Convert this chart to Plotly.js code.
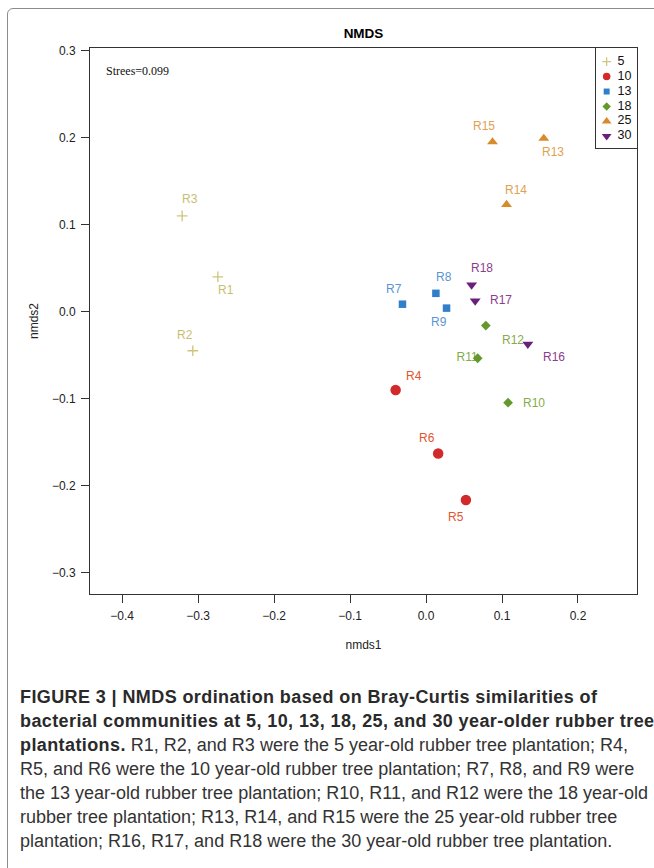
<!DOCTYPE html>
<html>
<head>
<meta charset="utf-8">
<script src="https://cdn.plot.ly/plotly-3.0.1.min.js"></script>
<style>
  html, body { margin: 0; padding: 0; background: #ffffff; }
  body { width: 654px; height: 868px; position: relative; overflow: hidden; }
  #plot { position: absolute; left: 0; top: 0; width: 654px; height: 680px; }
  #frame { position: absolute; left: 7px; top: 8px; width: 720px; height: 920px;
           border: 1.5px solid #8c8c8c; border-radius: 6px; pointer-events: none; }
  #caption { position: absolute; left: 20px; top: 685px; width: 640px;
             font-family: "Liberation Sans", Arial, sans-serif; font-size: 18px;
             line-height: 24px; color: #333; white-space: nowrap; }
  #caption b { color: #2a2a2a; letter-spacing: 0.4px; }
</style>
</head>
<body>
<div id="plot"></div>
<div id="frame"></div>
<div id="caption">
<b>FIGURE 3 | NMDS ordination based on Bray-Curtis similarities of</b><br>
<b>bacterial communities at 5, 10, 13, 18, 25, and 30 year-older rubber tree</b><br>
<b>plantations.</b> R1, R2, and R3 were the 5 year-old rubber tree plantation; R4,<br>
R5, and R6 were the 10 year-old rubber tree plantation; R7, R8, and R9 were<br>
the 13 year-old rubber tree plantation; R10, R11, and R12 were the 18 year-old<br>
rubber tree plantation; R13, R14, and R15 were the 25 year-old rubber tree<br>
plantation; R16, R17, and R18 were the 30 year-old rubber tree plantation.
</div>
<script>
// ---------------- data ----------------
const groups = ['5', '10', '13', '18', '25', '30'];

const g5_labels  = ['R1', 'R2', 'R3'];
const g5_x       = [-0.274, -0.307, -0.321];
const g5_y       = [0.040, -0.045, 0.110];

const g10_labels = ['R4', 'R5', 'R6'];
const g10_x      = [-0.040, 0.0525, 0.016];
const g10_y      = [-0.090, -0.2165, -0.163];

const g13_labels = ['R7', 'R8', 'R9'];
const g13_x      = [-0.031, 0.013, 0.027];
const g13_y      = [0.0085, 0.021, 0.004];

const g18_labels = ['R10', 'R11', 'R12'];
const g18_x      = [0.108, 0.068, 0.0787];
const g18_y      = [-0.1046, -0.0536, -0.016];

const g25_labels = ['R13', 'R14', 'R15'];
const g25_x      = [0.155, 0.106, 0.0875];
const g25_y      = [0.199, 0.123, 0.195];

const g30_labels = ['R16', 'R17', 'R18'];
const g30_x      = [0.134, 0.0647, 0.060];
const g30_y      = [-0.0375, 0.0123, 0.0307];

const xTicks = [-0.4, -0.3, -0.2, -0.1, 0.0, 0.1, 0.2];
const yTicks = [-0.3, -0.2, -0.1, 0.0, 0.1, 0.2, 0.3];
const stressText = 'Strees=0.099';

// ---------------- styles ----------------
const groupData = [
  { name: groups[0], x: g5_x,  y: g5_y,  labels: g5_labels  },
  { name: groups[1], x: g10_x, y: g10_y, labels: g10_labels },
  { name: groups[2], x: g13_x, y: g13_y, labels: g13_labels },
  { name: groups[3], x: g18_x, y: g18_y, labels: g18_labels },
  { name: groups[4], x: g25_x, y: g25_y, labels: g25_labels },
  { name: groups[5], x: g30_x, y: g30_y, labels: g30_labels }
];
const groupStyle = {
  '5':  { symbol: 'cross-thin-open', size: 7.6, key: 6.2, color: '#cfc47c', label: '#c9be70', line: 1.3 },
  '10': { symbol: 'circle',          size: 10.5, key: 7.5, color: '#d22a2a', label: '#e2552f', line: 0 },
  '13': { symbol: 'square',          size: 7.5, key: 6,   color: '#2f80c8', label: '#5b94d2', line: 0 },
  '18': { symbol: 'diamond',         size: 7.5, key: 6.5, color: '#64982c', label: '#84ac4c', line: 0 },
  '25': { symbol: 'triangle-up',     size: 9.5, key: 8.5, color: '#d88b2b', label: '#e0a152', line: 0 },
  '30': { symbol: 'triangle-down',   size: 9.5, key: 8.5, color: '#6a1f7a', label: '#8b3d8e', line: 0 }
};
// label pixel offsets (dx right, dy down) relative to the point
const labelShift = {
  R1: [8, 13], R2: [-8, -16], R3: [8, -17],
  R4: [18, -14], R5: [-10, 17], R6: [-11, -15],
  R7: [-8, -15], R8: [8, -16], R9: [-8, 14],
  R10: [26, 0], R12: [27, 14],
  R13: [9, 14], R14: [9, -15], R15: [-9, -16],
  R16: [26, 13], R17: [26, -1], R18: [10, -17]
};
const FONT = '"Liberation Sans", Arial, Helvetica, sans-serif';

// ---------------- traces ----------------
const traces = [];
const annotations = [];

// labels (R11 drawn as trace text so its marker covers it, as in the original)
groupData.forEach(g => {
  const st = groupStyle[g.name];
  g.labels.forEach((lab, i) => {
    if (labelShift[lab]) {
      annotations.push({
        x: g.x[i], y: g.y[i], xref: 'x', yref: 'y', text: lab, showarrow: false,
        xanchor: 'center', yanchor: 'middle',
        xshift: labelShift[lab][0], yshift: -labelShift[lab][1],
        font: { family: FONT, size: 12, color: st.label }
      });
    } else {
      traces.push({
        type: 'scatter', mode: 'text', x: [g.x[i]], y: [g.y[i]], text: [lab],
        textposition: 'middle left', showlegend: false, hoverinfo: 'skip',
        textfont: { family: FONT, size: 12, color: st.label }, cliponaxis: false
      });
    }
  });
});

groupData.forEach(g => {
  const st = groupStyle[g.name];
  traces.push({
    type: 'scatter', mode: 'markers', name: g.name, x: g.x, y: g.y, text: g.labels,
    marker: { symbol: st.symbol, size: st.size, color: st.color,
              line: { color: st.color, width: st.line } },
    cliponaxis: false, showlegend: false
  });
});

// legend key: a small boxed subplot with the group names on a category axis
groupData.forEach(g => {
  const st = groupStyle[g.name];
  traces.push({
    type: 'scatter', mode: 'markers', xaxis: 'x2', yaxis: 'y2',
    x: ['key'], y: [g.name], showlegend: false, hoverinfo: 'skip',
    marker: { symbol: st.symbol, size: st.key, color: st.color,
              line: { color: st.color, width: st.line ? 1.2 : 0 } },
    cliponaxis: false
  });
});
traces.push({
  type: 'scatter', mode: 'text', xaxis: 'x2', yaxis: 'y2',
  x: groups.map(() => 'name'), y: groups, text: groups,
  textposition: 'middle right', showlegend: false, hoverinfo: 'skip',
  textfont: { family: FONT, size: 12.5, color: '#111' }, cliponaxis: false
});

annotations.push({
  xref: 'paper', yref: 'paper', x: 0, y: 1, xanchor: 'left', yanchor: 'middle',
  xshift: 14, yshift: -23, showarrow: false, text: stressText,
  font: { family: '"Liberation Serif", "Times New Roman", serif', size: 12, color: '#111' }
});

const axisCommon = {
  showgrid: false, zeroline: false, showline: true, mirror: true,
  linecolor: '#333', linewidth: 1, ticks: 'outside', ticklen: 8, tickwidth: 1,
  tickcolor: '#333', tickformat: '.1f', ticklabelstandoff: 3,
  tickfont: { family: FONT, size: 12, color: '#222' }
};
const keyAxis = {
  showgrid: false, zeroline: false, showline: true, mirror: true,
  linecolor: '#333', linewidth: 1, ticks: '', showticklabels: false,
  type: 'category', fixedrange: true
};

const layout = {
  width: 654, height: 680,
  margin: { l: 90, r: 17, t: 48, b: 86 },
  paper_bgcolor: 'rgba(0,0,0,0)', plot_bgcolor: '#ffffff',
  font: { family: FONT, color: '#222' },
  showlegend: false,
  title: { text: '<b>NMDS</b>', x: 0.5, xref: 'paper', xanchor: 'center',
           y: 1 - 33 / 680, yref: 'container', yanchor: 'middle',
           font: { family: FONT, size: 13.5, color: '#000' } },
  xaxis: Object.assign({}, axisCommon, {
    range: [-0.4423, 0.2777], tickvals: xTicks, domain: [0, 1],
    title: { text: 'nmds1', standoff: 18, font: { family: FONT, size: 12, color: '#222' } }
  }),
  yaxis: Object.assign({}, axisCommon, {
    range: [-0.3245, 0.3029], tickvals: yTicks, domain: [0, 1],
    title: { text: 'nmds2', standoff: 10, font: { family: FONT, size: 12, color: '#222' } }
  }),
  xaxis2: Object.assign({}, keyAxis, {
    anchor: 'y2', domain: [0.925, 1], range: [-0.99, 2.81],
    categoryarray: ['key', 'name'], categoryorder: 'array'
  }),
  yaxis2: Object.assign({}, keyAxis, {
    anchor: 'x2', domain: [0.8168, 1], range: [5.79, -0.92],
    categoryarray: groups, categoryorder: 'array'
  }),
  annotations: annotations
};

Plotly.newPlot('plot', traces, layout, { displayModeBar: false, staticPlot: true });
</script>
</body>
</html>
